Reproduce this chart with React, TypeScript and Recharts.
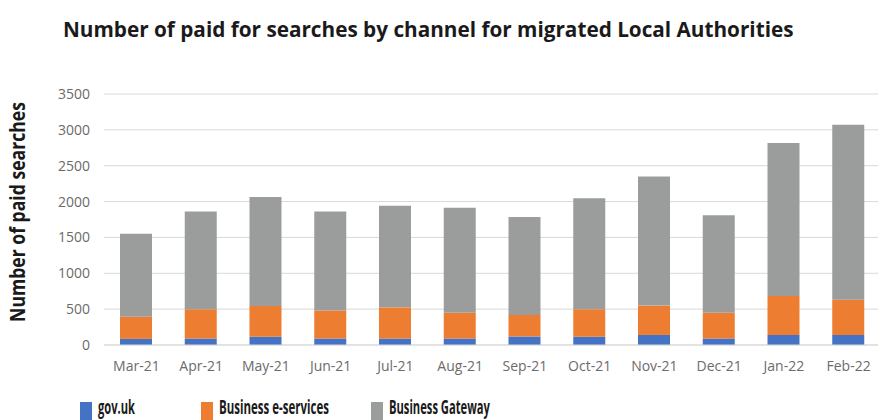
import React, { useLayoutEffect, useRef, useState } from "react";
import { BarChart, Bar, XAxis, YAxis, CartesianGrid } from "recharts";

const months = ["Mar-21", "Apr-21", "May-21", "Jun-21", "Jul-21", "Aug-21", "Sep-21", "Oct-21", "Nov-21", "Dec-21", "Jan-22", "Feb-22"];
const govUk = [85, 90, 115, 90, 90, 90, 120, 115, 140, 90, 140, 140];
const businessEServices = [310, 410, 430, 390, 435, 360, 300, 385, 410, 360, 545, 490];
const businessGateway = [1155, 1360, 1520, 1380, 1415, 1465, 1365, 1545, 1800, 1360, 2130, 2440];
const yTicks = [0, 500, 1000, 1500, 2000, 2500, 3000, 3500];

const BLUE = "#4472C4";
const ORANGE = "#ED7D31";
const GREY = "#9B9D9D";
const TEXT = "#1a1a1a";
const FONT = "'Open Sans', sans-serif";

const data = months.map((month, i) => ({
  month,
  gov: govUk[i],
  eservices: businessEServices[i],
  gateway: businessGateway[i],
}));

const legendItems = [
  { label: "gov.uk", color: BLUE, x: 80, width: 37 },
  { label: "Business e-services", color: ORANGE, x: 201, width: 110 },
  { label: "Business Gateway", color: GREY, x: 371, width: 101 },
];

// bold text squeezed horizontally to a given width (the reference uses a condensed face)
function FittedText({ x, y, width, size, rotate = 0, anchor = "start", children }: any) {
  const ref = useRef<SVGTextElement>(null);
  const [sx, setSx] = useState(1);
  useLayoutEffect(() => {
    if (ref.current) {
      const w = ref.current.getComputedTextLength();
      if (w > 0) setSx(width / w);
    }
  }, [width, children]);
  return (
    <g transform={`translate(${x} ${y}) rotate(${rotate}) scale(${sx} 1)`}>
      <text ref={ref} x={0} y={0} textAnchor={anchor} fontFamily={FONT} fontWeight={700} fontSize={size} fill={TEXT}>
        {children}
      </text>
    </g>
  );
}

export default function App() {
  return (
    <div style={{ position: "absolute", left: 0, top: 0, width: 878, height: 420, overflow: "hidden", background: "#fff" }}>
      <BarChart width={878} height={420} data={data} margin={{ top: 94, right: -3, bottom: 45, left: 0 }}>
        <CartesianGrid vertical={false} stroke="#d9d9d9" />
        <XAxis
          dataKey="month"
          height={30}
          axisLine={{ stroke: "#d9d9d9" }}
          tickLine={false}
          tickSize={6}
          tickMargin={10}
          tick={{ fontSize: 14, fill: "#6b6b6b", fontFamily: FONT }}
          interval={0}
        />
        <YAxis
          width={104}
          domain={[0, 3500]}
          ticks={yTicks}
          axisLine={false}
          tickLine={false}
          tickSize={6}
          tickMargin={8}
          tick={{ fontSize: 14, fill: "#6b6b6b", fontFamily: FONT }}
        />
        <Bar dataKey="gov" stackId="a" fill={BLUE} barSize={32} isAnimationActive={false} />
        <Bar dataKey="eservices" stackId="a" fill={ORANGE} barSize={32} isAnimationActive={false} />
        <Bar dataKey="gateway" stackId="a" fill={GREY} barSize={32} isAnimationActive={false} />
      </BarChart>
      <svg width={878} height={420} style={{ position: "absolute", left: 0, top: 0, pointerEvents: "none" }}>
        <FittedText x={63} y={37} width={731} size={21}>
          Number of paid for searches by channel for migrated Local Authorities
        </FittedText>
        <FittedText x={25} y={212} width={220} size={21} rotate={-90} anchor="middle">
          Number of paid searches
        </FittedText>
        {legendItems.map((item) => (
          <g key={item.label}>
            <rect x={item.x} y={402} width={12} height={18} fill={item.color} />
            <FittedText x={item.x + 18} y={414} width={item.width} size={19}>
              {item.label}
            </FittedText>
          </g>
        ))}
      </svg>
    </div>
  );
}
